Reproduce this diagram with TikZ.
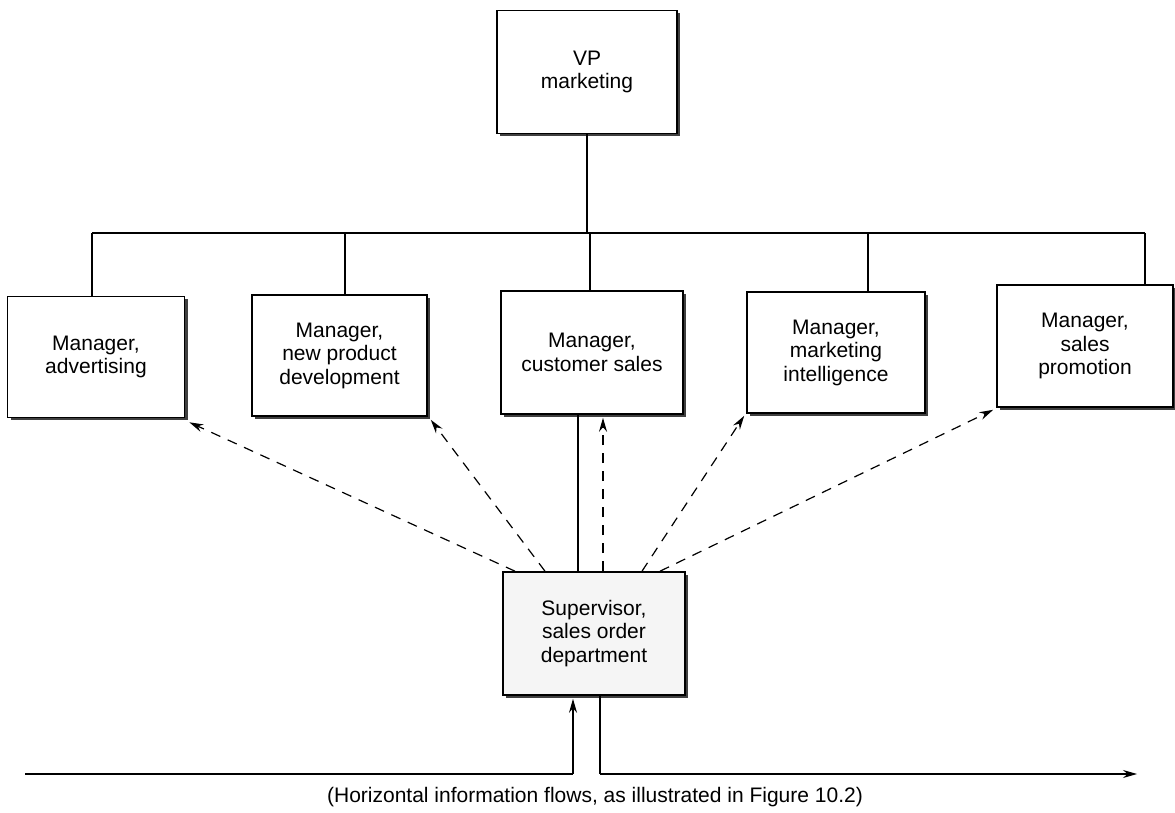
\documentclass[tikz,border=0pt]{standalone}
\usepackage{fontspec}
\setmainfont{Liberation Sans}
\usetikzlibrary{shadows,arrows.meta,calc}
\begin{document}
\begin{tikzpicture}[x=1pt,y=1pt,
  box/.style={draw=black,line width=1.6pt,fill=white,align=center,inner sep=0pt,
    font=\fontsize{21}{23.5}\selectfont,
    drop shadow={shadow xshift=3pt,shadow yshift=-3pt,fill=black!75,opacity=1}},
  link/.style={line width=1.2pt},
  flow/.style={line width=1.2pt,dash pattern=on 10pt off 8pt,-{Stealth[length=14pt,width=8pt]}},
  harrow/.style={line width=1.2pt,-{Stealth[length=14pt,width=8pt]}}]
\useasboundingbox (0,0) rectangle (1175,812);
\node[box,minimum width=180pt,minimum height=123pt] (vp) at (587,740) {VP\\marketing};
\node[box,minimum width=177pt,minimum height=121pt] (adv) at (96,455) {Manager,\\advertising};
\node[box,minimum width=175pt,minimum height=121pt] (npd) at (339.5,456.5) {Manager,\\new product\\development};
\node[box,minimum width=182pt,minimum height=123pt] (cs) at (592,459.5) {Manager,\\customer sales};
\node[box,minimum width=178pt,minimum height=121pt] (mi) at (836,459.5) {Manager,\\marketing\\intelligence};
\node[box,minimum width=176pt,minimum height=122pt] (sp) at (1085,466) {Manager,\\sales\\promotion};
\node[box,fill=black!4,minimum width=182pt,minimum height=123pt] (sup) at (594,178.5) {Supervisor,\\sales order\\department};
% bus
\coordinate (b0) at (587,579);
\coordinate (b1) at (92,579);
\coordinate (b2) at (345,579);
\coordinate (b3) at (590,579);
\coordinate (b4) at (868,579);
\coordinate (b5) at (1145,579);
\draw[link] (vp.south -| b0) -- (b0);
\draw[link] (b1) -- (b5);
\draw[link] (b1) -- (adv.north -| b1);
\draw[link] (b2) -- (npd.north -| b2);
\draw[link] (b3) -- (cs.north -| b3);
\draw[link] (b4) -- (mi.north -| b4);
\draw[link] (b5) -- (sp.north -| b5);
% customer sales to supervisor
\coordinate (c1) at (578,0);
\draw[link] (cs.south -| c1) -- (sup.north -| c1);
% dashed flows
\coordinate (s1) at (515,0);
\coordinate (s2) at (545,0);
\coordinate (s3) at (603,0);
\coordinate (s4) at (642,0);
\coordinate (s5) at (660,0);
\draw[flow] (sup.north -| s1) -- ($(adv.south east)+(4,-4)$);
\draw[flow] (sup.north -| s2) -- ($(npd.south east)+(3,-3)$);
\draw[flow] (sup.north -| s3) -- ($(cs.south -| s3)+(0,-3)$);
\draw[flow] (sup.north -| s4) -- ($(mi.south west)+(-2,-2)$);
\draw[flow] (sup.north -| s5) -- ($(sp.south west)+(-3,-2)$);
% horizontal flows
\coordinate (hl) at (25,38);
\coordinate (hin) at (573,38);
\coordinate (hout) at (600,38);
\coordinate (hr) at (1137,38);
\draw[link] (hl) -- (hin);
\draw[harrow] (hin) -- ($(sup.south -| hin)+(0,-3)$);
\draw[link] (sup.south -| hout) -- (hout);
\draw[harrow] (hout) -- (hr);
\node[font=\fontsize{21}{24}\selectfont] (cap) at (595,15) {(Horizontal information flows, as illustrated in Figure 10.2)};
\end{tikzpicture}
\end{document}
